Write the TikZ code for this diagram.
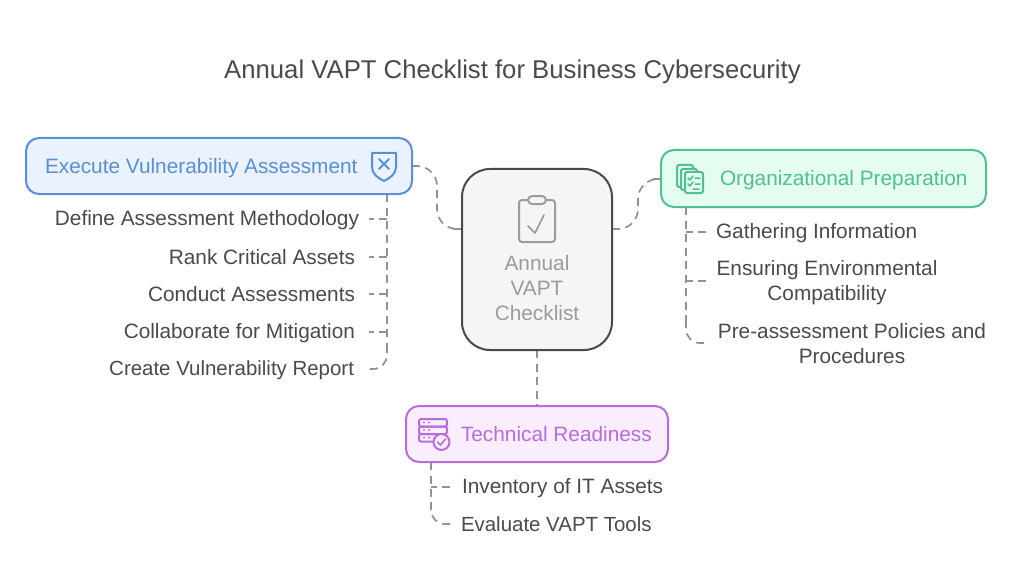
\documentclass[tikz,border=0pt]{standalone}
\usepackage{fontspec}
\setmainfont{Liberation Sans}
\definecolor{ink}{HTML}{4A4A4A}
\definecolor{dashc}{HTML}{929292}
\definecolor{blues}{HTML}{5A8FD8}\definecolor{bluef}{HTML}{E9F2FE}
\definecolor{greens}{HTML}{4FC08E}\definecolor{greenf}{HTML}{E4FDF0}
\definecolor{purps}{HTML}{B96DDC}\definecolor{purpf}{HTML}{F9EDFE}
\definecolor{cents}{HTML}{4A4A4A}\definecolor{centf}{HTML}{F5F5F5}
\definecolor{centt}{HTML}{9C9C9C}
\tikzset{
 every node/.style={inner sep=0pt,outer sep=0pt},
 box/.style={draw,line width=2pt,rounded corners=13pt,anchor=center},
 item/.style={text=ink,font=\fontsize{20.8}{25}\selectfont,align=center},
 itemsmall/.style={text=ink,font=\fontsize{20.45}{25}\selectfont,align=center},
 boxtext/.style={font=\fontsize{20.8}{25}\selectfont},
 link/.style={draw=dashc,line width=1.7pt,dash pattern=on 8pt off 5.5pt},
 rlink/.style={link,rounded corners=14pt},
 icon/.style={line width=2pt,line join=round,line cap=round},
}
\begin{document}
\begin{tikzpicture}[x=1pt,y=-1pt]
\useasboundingbox (0,0) rectangle (1024,588);
\node[text=ink,font=\fontsize{25.7}{30}\selectfont] (title) at (512.5,71.5) {Annual VAPT Checklist for Business Cybersecurity};

% coordinates for free ends
\coordinate (cL) at (462,229);\coordinate (cR) at (612,229);
\coordinate (bT) at (387,194);\coordinate (gT) at (686,207);\coordinate (pT) at (431,462);
\coordinate (bR) at (412,166);\coordinate (gL) at (661,179);

% main links
\draw[link,rounded corners=20pt] (bR) -- (437,166) -- (437,229) -- (cL);
\draw[link] (cL) -- (454,229);
\draw[link,rounded corners=20pt] (cR) -- (638,229) -- (638,179) -- (gL);
\draw[link] (gL) -- (653,179);
\draw[link] (537,350) -- (537,406);

% blue tree
\draw[link] (bT) -- (387,350);
\draw[rlink] (387,345) -- (387,369) -- (366,369);
\foreach \yy in {219,257,294,332}{\draw[link] (387,\yy) -- (369,\yy);}
% green tree
\draw[link] (gT) -- (686,325);
\draw[rlink] (686,320) -- (686,343) -- (707,343);
\draw[link] (706,232) -- (686,232);
\draw[link] (706,281) -- (686,281);
% purple tree
\draw[link] (pT) -- (431,505);
\draw[rlink] (431,502) -- (431,524) -- (452,524);
\draw[link] (450,487) -- (431,487);

% boxes
\node[box,draw=blues,fill=bluef,minimum width=386pt,minimum height=56pt] (blue) at (219,166) {};
\node[box,draw=greens,fill=greenf,minimum width=325pt,minimum height=57pt] (green) at (823.5,178.5) {};
\node[box,draw=purps,fill=purpf,minimum width=262pt,minimum height=56pt] (purple) at (537,434) {};
\node[box,draw=cents,fill=centf,rounded corners=28pt,minimum width=150pt,minimum height=181pt] (central) at (537,259.5) {};

% box labels
\node[boxtext,text=blues,anchor=west] (bluet) at (45,168) {Execute Vulnerability Assessment};
\node[boxtext,text=greens,anchor=west] (greent) at (720,180.5) {Organizational Preparation};
\node[boxtext,text=purps,anchor=west] (purplet) at (461,434.5) {Technical Readiness};
\node[item,text=centt] (centralt) at (537,288) {Annual\\VAPT\\Checklist};

% items
\node[item,anchor=east] (b1) at (359,220.5) {Define Assessment Methodology};
\node[item,anchor=east] (b2) at (355,257) {Rank Critical Assets};
\node[item,anchor=east] (b3) at (355,294) {Conduct Assessments};
\node[item,anchor=east] (b4) at (355,333) {Collaborate for Mitigation};
\node[itemsmall,anchor=east] (b5) at (354,370) {Create Vulnerability Report};
\node[item,anchor=west] (g1) at (716,233.5) {Gathering Information};
\node[item] (g2) at (827,282.5) {Ensuring Environmental\\Compatibility};
\node[item] (g3) at (852,344) {Pre-assessment Policies and\\Procedures};
\node[item,anchor=west] (p1) at (462,488.5) {Inventory of IT Assets};
\node[itemsmall,anchor=west] (p2) at (461,524.5) {Evaluate VAPT Tools};

% shield icon
\draw[icon,draw=blues] (372,153) .. controls (380,153) and (388,153) .. (396,153) -- (396,167) .. controls (396,174) and (390,178) .. (384,181) .. controls (378,178) and (372,174) .. (372,167) -- cycle;
\draw[icon,draw=blues] (379,159) -- (389,169) (389,159) -- (379,169);

% clipboard icon
\draw[icon,draw=centt,rounded corners=3pt] (528,200) -- (519,200) -- (519,242) -- (555,242) -- (555,200) -- (546,200);
\draw[icon,draw=centt,fill=centf,rounded corners=4pt] (528,196) rectangle (546,204);
\draw[icon,draw=centt,line width=1.6pt] (528,226) -- (535,233) -- (544,215);

% stacked sheets icon
\draw[icon,draw=greens,fill=greenf,rounded corners=2pt] (677,165) rectangle (693,187);
\draw[icon,draw=greens,fill=greenf,rounded corners=2pt] (681,169) rectangle (697,190);
\draw[icon,draw=greens,fill=greenf,rounded corners=2pt] (685,172) rectangle (703,193);
\draw[draw=greens,line width=1.5pt,line cap=round,line join=round]
 (688,178) -- (690,180) -- (693,176) (695,178) -- (700,178)
 (688,184) -- (690,186) -- (693,182) (695,184) -- (700,184)
 (693,189) -- (699,189);

% server icon
\draw[icon,draw=purps,rounded corners=2pt] (419,419) rectangle (447,426.5);
\draw[icon,draw=purps,rounded corners=2pt] (419,426.5) rectangle (447,434);
\draw[icon,draw=purps,rounded corners=2pt] (419,434) rectangle (441,441.5);
\foreach \yy in {422.5,430,437.5}{\fill[purps] (424,\yy) circle (1.2pt) (429,\yy) circle (1.2pt);}
\draw[icon,draw=purps,fill=purpf] (441.5,442) circle (8pt);
\draw[icon,draw=purps,line width=1.6pt] (437.5,442) -- (440.5,445) -- (445.5,439);
\end{tikzpicture}
\end{document}
